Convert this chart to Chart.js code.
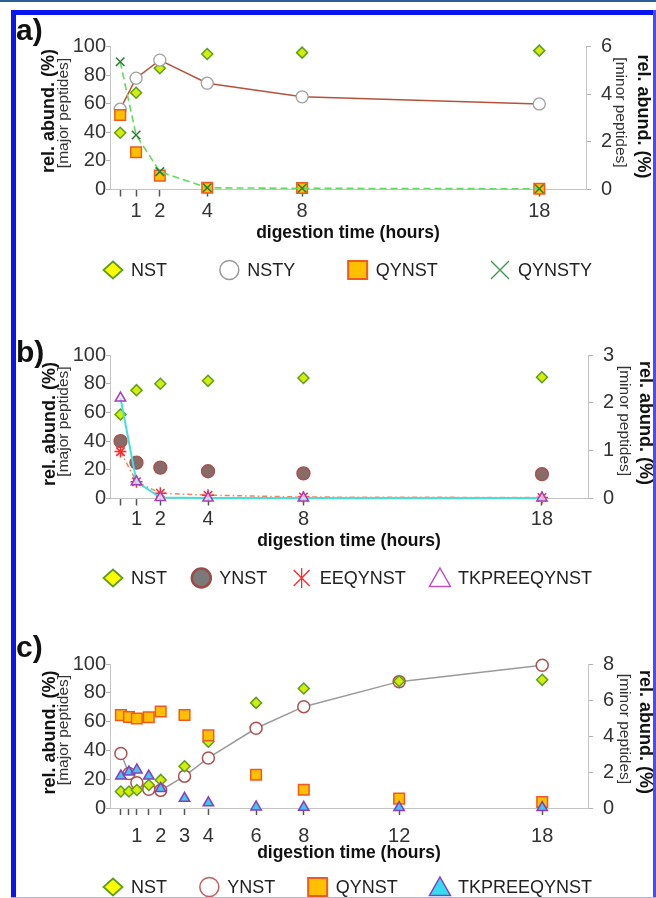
<!DOCTYPE html>
<html><head><meta charset="utf-8">
<script src="https://cdn.jsdelivr.net/npm/chart.js@4.4.0/dist/chart.umd.min.js"></script>
<style>
html,body{margin:0;padding:0;background:#fff;width:656px;height:898px;overflow:hidden;position:relative}
canvas{position:absolute;left:0}
.bd{position:absolute;z-index:5}
</style></head><body>
<div class="bd" style="left:0;top:0;width:656px;height:2px;background:#2a5f95"></div>
<div class="bd" style="left:11px;top:10px;width:645px;height:5px;background:#0a14f0"></div>
<div class="bd" style="left:11px;top:10px;width:5px;height:888px;background:#0a14f0"></div>
<div class="bd" style="left:653px;top:10px;width:3px;height:888px;background:#4a4aff"></div>
<div class="bd" style="left:11px;top:897px;width:645px;height:1px;background:#b0b0ff"></div>
<canvas id="ca" width="656" height="290" style="top:0px"></canvas>
<canvas id="cb" width="656" height="310" style="top:290px"></canvas>
<canvas id="cc" width="656" height="298" style="top:600px"></canvas>
<script>
// ---------- DATA ----------
// panel a
const hoursA = [0.33, 1, 2, 4, 8, 18];
const xTickLabelsA = ['', '1', '2', '4', '8', '18'];
const nstA = [39.7, 67.7, 84.8, 94.8, 95.7, 97.1];          // major (left axis, %)
const qynstA = [52.1, 26.0, 9.7, 1.2, 1.0, 0.5];            // major (left axis, %)
const nstyA = [3.37, 4.67, 5.43, 4.46, 3.89, 3.59];         // minor (right axis, %)
const qynstyA = [5.36, 2.29, 0.75, 0.07, 0.05, 0.03];       // minor (right axis, %)
// panel b
const hoursB = [0.33, 1, 2, 4, 8, 18];
const xTickLabelsB = ['', '1', '2', '4', '8', '18'];
const nstB = [58.5, 75.5, 80.0, 82.0, 84.0, 84.5];
const ynstB = [40.0, 25.0, 21.5, 19.0, 17.5, 17.0];
const eeqynstB = [0.98, 0.35, 0.11, 0.07, 0.03, 0.02];
const tkpreeqynstB = [2.1, 0.35, 0.02, 0.01, 0.01, 0.01];
// panel c
const hoursC = [0.33, 0.67, 1, 1.5, 2, 3, 4, 6, 8, 12, 18];
const xTickLabelsC = ['', '', '1', '', '2', '3', '4', '6', '8', '12', '18'];
const nstC = [11.5, 11.5, 12.5, 16.0, 19.5, 29.0, 46.0, 73.0, 83.0, 88.0, 89.0];
const ynstC = [3.03, 1.92, 1.40, 1.04, 0.98, 1.77, 2.78, 4.43, 5.63, 7.02, 7.93];
const qynstC = [64.5, 63.2, 62.2, 63.0, 67.0, 64.6, 50.4, 23.1, 12.7, 6.5, 4.2];
const tkpreeqynstC = [22.2, 25.0, 26.4, 22.2, 13.5, 6.7, 3.6, 0.7, 0.5, 0.3, 0.3];
// axis ticks
const yLeftTicks = [0, 20, 40, 60, 80, 100];
const yRightTicksA = [0, 2, 4, 6];
const yRightTicksB = [0, 1, 2, 3];
const yRightTicksC = [0, 2, 4, 6, 8];

// ---------- STYLE ----------
const FONT = "'Liberation Sans', Arial, sans-serif";
function pts(xs, ys) { return xs.map((x, i) => ({x: x, y: ys[i]})); }
const diamondStyle = {pointStyle:'rectRot', pointRadius:5.5, pointBackgroundColor:'#d2ee0a', pointBorderColor:'#5e9e1c', pointBorderWidth:1.5, showLine:false,
  legend:{shape:'diamond', fill:'#ffff00', stroke:'#5e9e1c', lw:1.8}};
const squareStyle = {pointStyle:'rect', pointRadius:7.5, pointBackgroundColor:'#ffc000', pointBorderColor:'#f05a22', pointBorderWidth:1.5, showLine:false,
  legend:{shape:'square', fill:'#ffc000', stroke:'#f05a22', lw:2}};

function dsA() {
  return [
    Object.assign({label:'NST', data:pts(hoursA, nstA), yAxisID:'y', order:4}, diamondStyle),
    {label:'NSTY', data:pts(hoursA, nstyA), yAxisID:'y2', order:3, showLine:true, borderColor:'#b5523b', borderWidth:1.5,
     pointStyle:'circle', pointRadius:6, pointBackgroundColor:'#ffffff', pointBorderColor:'#a0a0a0', pointBorderWidth:1.3,
     legend:{shape:'circle', fill:'#ffffff', stroke:'#9a9a9a', lw:1.5}},
    Object.assign({label:'QYNST', data:pts(hoursA, qynstA), yAxisID:'y', order:2}, squareStyle),
    {label:'QYNSTY', data:pts(hoursA, qynstyA), yAxisID:'y2', order:1, showLine:true, borderColor:'#5fdc5f', borderWidth:1.6, borderDash:[7,4],
     pointStyle:'crossRot', pointRadius:6, pointBorderColor:'#2a7d32', pointBackgroundColor:'#2a7d32', pointBorderWidth:1.5,
     legend:{shape:'x', stroke:'#3a9a45', lw:1.3}}
  ];
}
function dsB() {
  return [
    Object.assign({label:'NST', data:pts(hoursB, nstB), yAxisID:'y', order:4}, diamondStyle),
    {label:'YNST', data:pts(hoursB, ynstB), yAxisID:'y', order:3, showLine:false,
     pointStyle:'circle', pointRadius:6.5, pointBackgroundColor:'#8a6a66', pointBorderColor:'#a8504a', pointBorderWidth:1.3,
     legend:{shape:'circle', fill:'#7a7a7a', stroke:'#9c4a46', lw:2.5}},
    {label:'EEQYNST', data:pts(hoursB, eeqynstB), yAxisID:'y2', order:2, showLine:true, borderColor:'#f4825a', borderWidth:1.5, borderDash:[5,3,1.5,3],
     pointStyle:'star', pointRadius:6, pointBorderColor:'#ff2a2a', pointBackgroundColor:'#ff2a2a', pointBorderWidth:1.5,
     legend:{shape:'star', stroke:'#ff2a2a', lw:1.3}},
    {label:'TKPREEQYNST', data:pts(hoursB, tkpreeqynstB), yAxisID:'y2', order:1, showLine:true, borderColor:'#3fe0e0', borderWidth:2,
     pointStyle:'triangle', pointRadius:6, pointBackgroundColor:'rgba(240,230,255,0.7)', pointBorderColor:'#a040c0', pointBorderWidth:1.5,
     legend:{shape:'triangle', fill:'#ffffff', stroke:'#c050c0', lw:1.5}}
  ];
}
function dsC() {
  return [
    Object.assign({label:'NST', data:pts(hoursC, nstC), yAxisID:'y', order:3}, diamondStyle),
    {label:'YNST', data:pts(hoursC, ynstC), yAxisID:'y2', order:4, showLine:true, borderColor:'#9a9a9a', borderWidth:1.5,
     pointStyle:'circle', pointRadius:6, pointBackgroundColor:'#ffffff', pointBorderColor:'#b0504e', pointBorderWidth:1.5,
     legend:{shape:'circle', fill:'#ffffff', stroke:'#c06060', lw:1.5}},
    Object.assign({label:'QYNST', data:pts(hoursC, qynstC), yAxisID:'y', order:2}, squareStyle),
    {label:'TKPREEQYNST', data:pts(hoursC, tkpreeqynstC), yAxisID:'y', order:1, showLine:false,
     pointStyle:'triangle', pointRadius:6, pointBackgroundColor:'#3ec8ec', pointBorderColor:'#8a3cc0', pointBorderWidth:1.5,
     legend:{shape:'triangle', fill:'#33ddee', stroke:'#8040c0', lw:1.5}}
  ];
}

// ---------- decorations: panel letter, axis titles, legend ----------
function drawSym(ctx, s, cx, cy) {
  ctx.save();
  ctx.lineWidth = s.lw; ctx.strokeStyle = s.stroke; ctx.fillStyle = s.fill || 'rgba(0,0,0,0)';
  ctx.beginPath();
  switch (s.shape) {
    case 'diamond': ctx.moveTo(cx, cy-8.5); ctx.lineTo(cx+9.5, cy); ctx.lineTo(cx, cy+8.5); ctx.lineTo(cx-9.5, cy); ctx.closePath(); break;
    case 'circle': ctx.arc(cx, cy, 9.5, 0, Math.PI*2); break;
    case 'square': ctx.rect(cx-9.5, cy-9, 19, 18); break;
    case 'x': ctx.moveTo(cx-9, cy-9); ctx.lineTo(cx+9, cy+9); ctx.moveTo(cx+9, cy-9); ctx.lineTo(cx-9, cy+9); break;
    case 'star': ctx.moveTo(cx-8, cy-8); ctx.lineTo(cx+8, cy+8); ctx.moveTo(cx+8, cy-8); ctx.lineTo(cx-8, cy+8); ctx.moveTo(cx, cy-10); ctx.lineTo(cx, cy+10); break;
    case 'triangle': ctx.moveTo(cx, cy-10); ctx.lineTo(cx+10.5, cy+8.5); ctx.lineTo(cx-10.5, cy+8.5); ctx.closePath(); break;
  }
  if (s.fill) ctx.fill();
  ctx.stroke();
  ctx.restore();
}
function rotText(ctx, text, x, y, rot, font, color) {
  ctx.save(); ctx.translate(x, y); ctx.rotate(rot);
  ctx.font = font; ctx.fillStyle = color; ctx.textAlign = 'center'; ctx.textBaseline = 'middle';
  ctx.fillText(text, 0, 0); ctx.restore();
}
const deco = {
  ca: {top:0, letter:'a)', letterY:40, lb:[49,111], lm:[63.5,113], rm:[620,112.5], rb:[643,116.5], legendY:270},
  cb: {top:290, letter:'b)', letterY:362, lb:[50,424], lm:[63.5,421.5], rm:[624,421], rb:[645,423], legendY:578},
  cc: {top:600, letter:'c)', letterY:657, lb:[50,732.5], lm:[63.5,730], rm:[624,729], rb:[645,732], legendY:887}
};
const decoPlugin = {
  id: 'deco',
  afterDraw(chart) {
    const d = deco[chart.canvas.id]; const ctx = chart.ctx; const t = d.top;
    ctx.save();
    ctx.font = 'bold 30px ' + FONT; ctx.fillStyle = '#111'; ctx.textAlign = 'left'; ctx.textBaseline = 'alphabetic';
    ctx.fillText(d.letter, 16, d.letterY - t);
    const bold = 'bold 18px ' + FONT, small = '15.5px ' + FONT;
    rotText(ctx, 'rel. abund. (%)', d.lb[0], d.lb[1]-t, -Math.PI/2, bold, '#111');
    rotText(ctx, '[major peptides]', d.lm[0], d.lm[1]-t, -Math.PI/2, small, '#333');
    rotText(ctx, '[minor peptides]', d.rm[0], d.rm[1]-t, Math.PI/2, small, '#333');
    rotText(ctx, 'rel. abund. (%)', d.rb[0], d.rb[1]-t, Math.PI/2, bold, '#111');
    // legend
    const items = chart.data.datasets;
    ctx.font = '18px ' + FONT;
    const widths = items.map(ds => 20 + 8 + ctx.measureText(ds.label).width);
    const total = widths.reduce((a, b) => a + b, 0);
    const left = 103, right = 592;
    const gap = (right - left - total) / (items.length - 1);
    let x = left; const y = d.legendY - t;
    items.forEach((ds, i) => {
      drawSym(ctx, ds.legend, x + 10, y);
      ctx.fillStyle = '#222'; ctx.textAlign = 'left'; ctx.textBaseline = 'middle'; ctx.font = '18px ' + FONT;
      ctx.fillText(ds.label, x + 28, y + 1);
      x += widths[i] + gap;
    });
    ctx.restore();
  }
};

function build(p) {
  const axisGray = '#c4c4c4';
  return new Chart(document.getElementById(p.id), {
    type: 'line',
    data: {datasets: p.datasets},
    options: {
      responsive: false, animation: false, devicePixelRatio: 1, events: [],
      clip: false,
      elements: {line: {tension: 0}},
      layout: {padding: {top: p.padTop, bottom: p.padBottom, left: 0, right: 0}},
      plugins: {legend: {display: false}, tooltip: {enabled: false}},
      scales: {
        x: {
          type: 'linear', min: p.xMin, max: p.xMax,
          afterBuildTicks: s => { s.ticks = p.xTicks.map(v => ({value: v})); },
          afterFit: s => { s.height = p.xH; },
          ticks: {callback: (v, i) => p.xLabels[i], autoSkip: false, maxRotation: 0, minRotation: 0, padding: p.xPad,
                  font: {family: FONT, size: 20}, color: '#333'},
          grid: {drawOnChartArea: false, drawTicks: true, tickLength: 7, tickColor: '#555', tickWidth: 1.5},
          border: {display: true, color: axisGray, width: 1},
          title: {display: true, text: 'digestion time (hours)', font: {family: FONT, size: 17.5, weight: 'bold'}, color: '#111', padding: {top: 0, bottom: 0}}
        },
        y: {
          position: 'left', min: 0, max: 100,
          afterBuildTicks: s => { s.ticks = yLeftTicks.map(v => ({value: v})); },
          afterFit: s => { s.width = 110; },
          ticks: {font: {family: FONT, size: 20}, color: '#333', padding: 0},
          grid: {drawOnChartArea: false, drawTicks: true, tickLength: 4, tickColor: '#b0b0b0'},
          border: {display: true, color: axisGray, width: 1}
        },
        y2: {
          position: 'right', min: 0, max: p.y2Max,
          afterBuildTicks: s => { s.ticks = p.y2Ticks.map(v => ({value: v})); },
          afterFit: s => { s.width = 656 - p.right; },
          ticks: {font: {family: FONT, size: 20}, color: '#333', padding: 10},
          grid: {drawOnChartArea: false, drawTicks: true, tickLength: 5, tickColor: '#b0b0b0'},
          border: {display: true, color: axisGray, width: 1}
        }
      }
    },
    plugins: [decoPlugin]
  });
}

build({id: 'ca', datasets: dsA(), padTop: 46.5, padBottom: 46.2, xH: 54.3, xPad: 3.3, xMin: -0.1, xMax: 19.97, right: 586,
       xTicks: hoursA, xLabels: xTickLabelsA, y2Max: 6, y2Ticks: yRightTicksA});
build({id: 'cb', datasets: dsB(), padTop: 65, padBottom: 48, xH: 53.5, xPad: 2, xMin: -0.11, xMax: 19.93, right: 588,
       xTicks: hoursB, xLabels: xTickLabelsB, y2Max: 3, y2Ticks: yRightTicksB});
build({id: 'cc', datasets: dsC(), padTop: 64, padBottom: 34, xH: 56, xPad: 9.5, xMin: -0.126, xMax: 19.92, right: 588,
       xTicks: hoursC, xLabels: xTickLabelsC, y2Max: 8, y2Ticks: yRightTicksC});
</script>
</body></html>
